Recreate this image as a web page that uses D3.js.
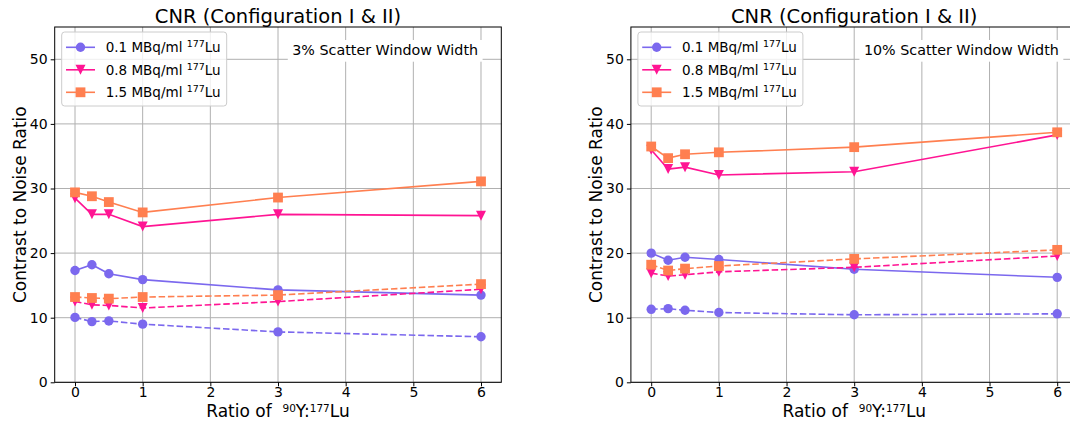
<!DOCTYPE html>
<html>
<head>
<meta charset="utf-8">
<script src="https://cdn.jsdelivr.net/npm/d3@7"></script>
<style>
  body { margin: 0; background: #fff; }
  svg { display: block; font-family: "DejaVu Sans", sans-serif; }
  .xlab { white-space: pre; }
</style>
</head>
<body>
<svg id="chart" width="1070" height="425"></svg>
<script>
// x values: ratio of 90Y : 177Lu
var ratios = [0, 0.25, 0.5, 1, 3, 6];
var xTicks = [0, 1, 2, 3, 4, 5, 6];
var yTicks = [0, 10, 20, 30, 40, 50];
var legendNames = ["0.1", "0.8", "1.5"];

// 3% scatter window, configuration I (solid) and II (dashed)
var w3_c01 = [17.3, 18.2, 16.8, 15.9, 14.3, 13.5];
var w3_c08 = [28.5, 26.0, 26.0, 24.1, 26.0, 25.8];
var w3_c15 = [29.4, 28.8, 27.9, 26.3, 28.6, 31.1];
var w3_c01b = [10.05, 9.4, 9.5, 9.0, 7.8, 7.05];
var w3_c08b = [12.5, 12.0, 11.9, 11.5, 12.5, 14.4];
var w3_c15b = [13.2, 13.05, 12.95, 13.2, 13.5, 15.2];

// 10% scatter window
var w10_c01 = [20.0, 18.9, 19.35, 19.0, 17.5, 16.25];
var w10_c08 = [36.0, 33.0, 33.3, 32.1, 32.6, 38.3];
var w10_c15 = [36.5, 34.7, 35.3, 35.6, 36.4, 38.7];
var w10_c01b = [11.3, 11.4, 11.15, 10.8, 10.45, 10.6];
var w10_c08b = [16.9, 16.45, 16.65, 17.1, 17.8, 19.55];
var w10_c15b = [18.2, 17.3, 17.6, 18.0, 19.1, 20.5];

var colors = ["#7b68ee", "#ff1493", "#ff7f50"];
var shapes = ["circle", "tri", "square"];

var svg = d3.select("#chart");
var width = 446.6, height = 355.3;

function marker(g, shape, color, x, y) {
  if (shape == "circle") {
    g.append("circle").attr("cx", x).attr("cy", y).attr("r", 4.7).attr("fill", color);
  } else if (shape == "square") {
    g.append("rect").attr("x", x - 4.9).attr("y", y - 4.9).attr("width", 9.8).attr("height", 9.8).attr("fill", color);
  } else {
    g.append("path").attr("d", "M" + (x - 5) + "," + (y - 5) + "L" + (x + 5) + "," + (y - 5) + "L" + x + "," + (y + 5) + "Z").attr("fill", color);
  }
}

function supText(sel, before, sup, after, size) {
  sel.append("tspan").text(before);
  sel.append("tspan").attr("font-size", size * 0.7).attr("dy", -size * 0.38).text(sup);
  sel.append("tspan").attr("dy", size * 0.38).text(after);
}

function panel(left, label, solid, dashed) {
  var p = svg.append("g").attr("transform", "translate(" + left + ",27)");

  var x = d3.scaleLinear().domain([-0.3, 6.3]).range([0, width]);
  var y = d3.scaleLinear().domain([0, 55]).range([height, 0]);

  // grid
  p.append("g").selectAll("line").data(xTicks).enter().append("line")
    .attr("x1", function(d) { return x(d); }).attr("x2", function(d) { return x(d); })
    .attr("y1", 0).attr("y2", height)
    .attr("stroke", "#b0b0b0").attr("stroke-width", 1);
  p.append("g").selectAll("line").data(yTicks).enter().append("line")
    .attr("y1", function(d) { return y(d); }).attr("y2", function(d) { return y(d); })
    .attr("x1", 0).attr("x2", width)
    .attr("stroke", "#b0b0b0").attr("stroke-width", 1);

  var xAxis = d3.axisBottom(x).tickValues(xTicks).tickSize(4).tickPadding(3).tickFormat(d3.format("d"));
  var yAxis = d3.axisLeft(y).tickValues(yTicks).tickSize(4).tickPadding(3).tickFormat(d3.format("d"));

  var line = d3.line()
    .x(function(d, i) { return x(ratios[i]); })
    .y(function(d) { return y(d); });

  var all = solid.map(function(s, i) { return {v: s, i: i, dash: false}; })
    .concat(dashed.map(function(s, i) { return {v: s, i: i, dash: true}; }));

  all.forEach(function(s) {
    var g = p.append("g");
    g.append("path").attr("d", line(s.v))
      .attr("fill", "none").attr("stroke", colors[s.i]).attr("stroke-width", 1.6)
      .attr("stroke-dasharray", s.dash ? "6.5,2.8" : null);
    s.v.forEach(function(v, k) { marker(g, shapes[s.i], colors[s.i], x(ratios[k]), y(v)); });
  });

  // spines
  p.append("rect").attr("width", width).attr("height", height)
    .attr("fill", "none").attr("stroke", "#000").attr("stroke-width", 1);

  var ax = p.append("g").attr("transform", "translate(0," + height + ")").call(xAxis);
  var ay = p.append("g").call(yAxis);
  [ax, ay].forEach(function(a) {
    a.select(".domain").remove();
    a.selectAll("text").attr("font-size", 14).attr("font-family", "DejaVu Sans").attr("fill", "#000");
    a.selectAll("line").attr("stroke", "#000");
  });
  ax.selectAll("text").attr("y", 15).attr("dy", 0);

  // legend
  var lg = p.append("g").attr("transform", "translate(7,5)");
  lg.append("rect").attr("width", 165).attr("height", 74).attr("rx", 3)
    .attr("fill", "#fff").attr("fill-opacity", 0.8).attr("stroke", "#cccccc");
  legendNames.forEach(function(n, i) {
    var ry = 15.3 + i * 22.5;
    lg.append("line").attr("x1", 4.3).attr("x2", 33.3).attr("y1", ry).attr("y2", ry)
      .attr("stroke", colors[i]).attr("stroke-width", 1.6);
    marker(lg, shapes[i], colors[i], 18.8, ry);
    var t = lg.append("text").attr("x", 44).attr("y", ry + 5).attr("font-size", 13.5);
    supText(t, n + " MBq/ml ", "177", "Lu", 13.5);
  });

  // window width label
  var tx = x.range()[0] + 0.74 * width;
  var tb = p.append("g");
  var tt = tb.append("text").attr("x", tx).attr("y", 28).attr("text-anchor", "middle")
    .attr("font-size", 14.3).text(label);
  var bb = tt.node().getBBox();
  tb.insert("rect", "text").attr("x", bb.x - 4.5).attr("y", 13).attr("width", bb.width + 9).attr("height", 21.7)
    .attr("fill", "#fff");

  // title and axis labels
  p.append("text").attr("x", width / 2).attr("y", -4.5).attr("text-anchor", "middle")
    .attr("font-size", 19.5).text("CNR (Configuration I & II)");
  var xl = p.append("text").attr("class", "xlab").attr("x", width / 2).attr("y", height + 35).attr("text-anchor", "middle")
    .attr("font-size", 17);
  xl.append("tspan").text("Ratio of  ");
  xl.append("tspan").attr("font-size", 10.5).attr("dy", -5).text("90");
  xl.append("tspan").attr("dy", 5).text("Y:");
  xl.append("tspan").attr("font-size", 10.5).attr("dy", -5).text("177");
  xl.append("tspan").attr("dy", 5).text("Lu");
  p.append("text").attr("transform", "translate(" + (-29) + "," + (height / 2) + ") rotate(-90)")
    .attr("text-anchor", "middle").attr("font-size", 17).text("Contrast to Noise Ratio");
}

panel(54.7, "3% Scatter Window Width", [w3_c01, w3_c08, w3_c15], [w3_c01b, w3_c08b, w3_c15b]);
panel(630.9, "10% Scatter Window Width", [w10_c01, w10_c08, w10_c15], [w10_c01b, w10_c08b, w10_c15b]);
</script>
</body>
</html>
